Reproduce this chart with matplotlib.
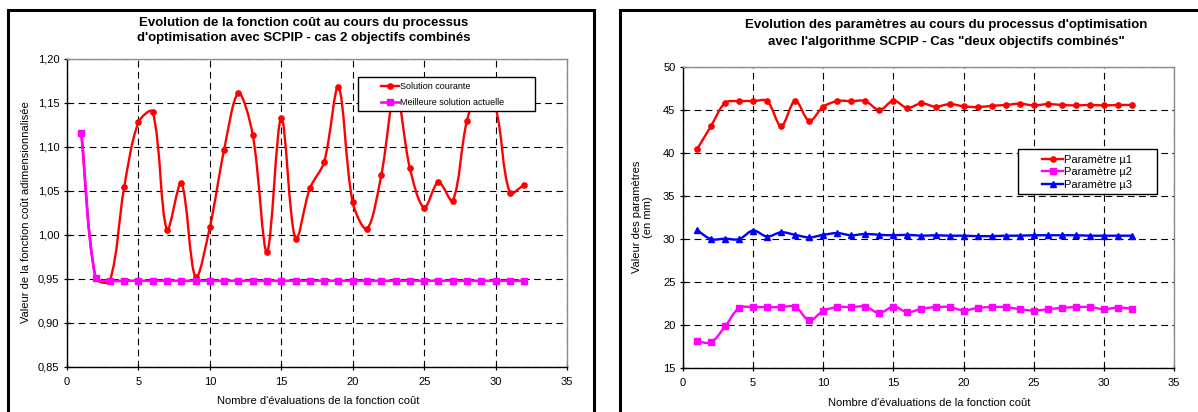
import numpy as np
import matplotlib
matplotlib.use("Agg")
import matplotlib.pyplot as plt
from matplotlib.path import Path
from matplotlib.patches import PathPatch, Rectangle
from matplotlib.lines import Line2D
from matplotlib.ticker import FuncFormatter, MultipleLocator

plt.rcParams['font.family'] = ['Liberation Sans', 'DejaVu Sans']

# ---- data -------------------------------------------------------------
evaluations = list(range(1, 33))

cost_current = [1.116, 0.951, 0.948, 1.054, 1.128, 1.140, 1.006, 1.059,
                0.952, 1.009, 1.097, 1.161, 1.114, 0.981, 1.133, 0.995,
                1.053, 1.083, 1.168, 1.037, 1.007, 1.068, 1.165, 1.076,
                1.031, 1.060, 1.039, 1.130, 1.170, 1.145, 1.048, 1.057]
cost_best = [1.116, 0.951, 0.948, 0.948, 0.948, 0.948, 0.948, 0.948,
             0.948, 0.948, 0.948, 0.948, 0.948, 0.948, 0.948, 0.948,
             0.948, 0.948, 0.948, 0.948, 0.948, 0.948, 0.948, 0.948,
             0.948, 0.948, 0.948, 0.948, 0.948, 0.948, 0.948, 0.948]

mu1 = [40.4, 43.1, 45.8, 46.0, 46.0, 46.0, 43.1, 46.05,
       43.7, 45.35, 46.0, 46.0, 46.0, 44.95, 46.05, 45.2,
       45.75, 45.35, 45.65, 45.4, 45.3, 45.45, 45.55, 45.7,
       45.5, 45.65, 45.55, 45.5, 45.55, 45.5, 45.55, 45.55]
mu2 = [18.05, 17.95, 19.8, 21.95, 22.05, 22.05, 22.05, 22.1,
       20.5, 21.6, 22.05, 22.05, 22.1, 21.35, 22.1, 21.45,
       21.85, 22.05, 22.05, 21.65, 21.95, 22.05, 22.05, 21.8,
       21.65, 21.8, 21.95, 22.05, 22.05, 21.8, 22.0, 21.85]
mu3 = [31.0, 29.95, 30.0, 29.95, 30.95, 30.25, 30.75, 30.45,
       30.15, 30.45, 30.65, 30.4, 30.55, 30.45, 30.4, 30.45,
       30.35, 30.4, 30.35, 30.35, 30.3, 30.3, 30.35, 30.35,
       30.4, 30.4, 30.4, 30.4, 30.35, 30.35, 30.35, 30.35]

cost_ticks = [0.85, 0.90, 0.95, 1.00, 1.05, 1.10, 1.15, 1.20]
x_ticks = [0, 5, 10, 15, 20, 25, 30, 35]

RED = '#FF0000'
MAGENTA = '#FF00FF'
BLUE = '#0000FF'

W, H = 1198, 412
fig = plt.figure(figsize=(W / 100, H / 100), dpi=100)


def smooth_line(ax, x, y, color, lw=1.6, zorder=3):
    """Spreadsheet-style smoothed line: cubic Bezier segments whose
    tangents are weighted by on-screen chord lengths."""
    pts = ax.transData.transform(np.column_stack([x, y]))
    n = len(pts)
    verts = [pts[0]]
    codes = [Path.MOVETO]
    for i in range(n - 1):
        p0 = pts[i - 1] if i > 0 else pts[i]
        p1 = pts[i]
        p2 = pts[i + 1]
        p3 = pts[i + 2] if i + 2 < n else pts[i + 1]
        d01 = np.hypot(*(p1 - p0))
        d12 = np.hypot(*(p2 - p1))
        d23 = np.hypot(*(p3 - p2))
        f1 = d12 / (d01 + d12) / 3 if d01 + d12 > 0 else 0
        f2 = d12 / (d12 + d23) / 3 if d12 + d23 > 0 else 0
        c1 = p1 + (p2 - p0) * f1
        c2 = p2 - (p3 - p1) * f2
        verts += [c1, c2, p2]
        codes += [Path.CURVE4] * 3
    data_verts = ax.transData.inverted().transform(np.array(verts))
    ax.add_patch(PathPatch(Path(data_verts, codes), fill=False,
                           edgecolor=color, lw=lw, zorder=zorder,
                           transform=ax.transData,
                           capstyle='round', joinstyle='round'))


def style_axes(ax):
    ax.set_xlim(0, 35)
    ax.set_xticks(x_ticks)
    ax.grid(True, color='black', linestyle=(0, (6, 4)), lw=0.8)
    ax.set_axisbelow(True)
    for side in ('top', 'right'):
        ax.spines[side].set_color('#8c8c8c')
        ax.spines[side].set_linewidth(1.0)
    for side in ('left', 'bottom'):
        ax.spines[side].set_color('black')
        ax.spines[side].set_linewidth(1.0)
    ax.tick_params(axis='both', direction='inout', length=5, width=0.9,
                   labelsize=8, colors='black')
    ax.tick_params(axis='x', pad=5)
    ax.tick_params(axis='y', pad=3)


def px_box(l, t, r, b):
    return [l / W, 1 - b / H, (r - l) / W, (b - t) / H]


# ---- outer frames -----------------------------------------------------
fig.patches.append(Rectangle((8 / W, -0.1), (594 - 8) / W, 1.1 - 10 / H,
                             transform=fig.transFigure, fill=False,
                             edgecolor='black', lw=2.2, zorder=0))
fig.patches.append(Rectangle((620 / W, -0.1), 0.6, 1.1 - 10 / H,
                             transform=fig.transFigure, fill=False,
                             edgecolor='black', lw=2.2, zorder=0))

# ---- left: cost function ---------------------------------------------
ax1 = fig.add_axes(px_box(67, 59, 567, 367))
style_axes(ax1)
ax1.set_ylim(0.85, 1.20)
ax1.set_yticks(cost_ticks)
ax1.yaxis.set_major_formatter(FuncFormatter(lambda v, p: f"{v:.2f}".replace('.', ',')))

smooth_line(ax1, evaluations, cost_current, RED, lw=1.7, zorder=3)
ax1.plot(evaluations, cost_current, linestyle='none', marker='o',
         ms=3.8, color=RED, zorder=4)
smooth_line(ax1, evaluations, cost_best, MAGENTA, lw=1.9, zorder=5)
ax1.plot(evaluations, cost_best, linestyle='none', marker='s',
         ms=4.2, color=MAGENTA, zorder=6)

ax1.add_patch(Rectangle((0.582, 0.831), 0.936 - 0.582, 0.9416 - 0.831,
                        transform=ax1.transAxes, facecolor='white',
                        edgecolor='black', lw=1.0, zorder=7))
h1 = [Line2D([], [], color=RED, lw=1.7, marker='o', ms=3.8),
      Line2D([], [], color=MAGENTA, lw=1.9, marker='s', ms=4.2)]
leg1 = ax1.legend(h1, ['Solution courante', 'Meilleure solution actuelle'],
                  loc='center left', bbox_to_anchor=(0.627, 0.885),
                  frameon=False, fontsize=6.5, numpoints=1,
                  handlelength=2.1, handletextpad=0.1, borderpad=0,
                  borderaxespad=0, labelspacing=0.75)
leg1.set_zorder(8)

fig.text(304 / W, 1 - 23 / H,
         "Evolution de la fonction coût au cours du processus",
         ha='center', va='center', fontsize=9.5, fontweight='bold')
fig.text(304 / W, 1 - 38.5 / H,
         "d'optimisation avec SCPIP - cas 2 objectifs combinés",
         ha='center', va='center', fontsize=9.5, fontweight='bold')
fig.text(25.6 / W, 1 - 212 / H,
         "Valeur de la fonction coût adimensionnalisée",
         ha='center', va='center', rotation=90, fontsize=8)
fig.text(318 / W, 1 - 401 / H, "Nombre d'évaluations de la fonction coût",
         ha='center', va='center', fontsize=8)

# ---- right: design parameters ----------------------------------------
ax2 = fig.add_axes(px_box(683, 66.7, 1174, 367.7))
style_axes(ax2)
ax2.set_ylim(15, 50)
ax2.yaxis.set_major_locator(MultipleLocator(5))

smooth_line(ax2, evaluations, mu1, RED, lw=1.7, zorder=3)
ax2.plot(evaluations, mu1, linestyle='none', marker='o', ms=3.8,
         color=RED, zorder=4)
smooth_line(ax2, evaluations, mu2, MAGENTA, lw=1.7, zorder=3)
ax2.plot(evaluations, mu2, linestyle='none', marker='s', ms=4.2,
         color=MAGENTA, zorder=4)
smooth_line(ax2, evaluations, mu3, BLUE, lw=1.7, zorder=3)
ax2.plot(evaluations, mu3, linestyle='none', marker='^', ms=4.5,
         color=BLUE, zorder=4)

ax2.add_patch(Rectangle((0.682, 0.577), 0.965 - 0.682, 0.7266 - 0.577,
                        transform=ax2.transAxes, facecolor='white',
                        edgecolor='black', lw=1.0, zorder=7))
h2 = [Line2D([], [], color=RED, lw=1.7, marker='o', ms=3.8),
      Line2D([], [], color=MAGENTA, lw=1.7, marker='s', ms=4.2),
      Line2D([], [], color=BLUE, lw=1.7, marker='^', ms=4.5)]
leg2 = ax2.legend(h2, ['Paramètre µ1', 'Paramètre µ2', 'Paramètre µ3'],
                  loc='center left', bbox_to_anchor=(0.732, 0.649),
                  frameon=False, fontsize=8, numpoints=1,
                  handlelength=1.85, handletextpad=0.1, borderpad=0,
                  borderaxespad=0, labelspacing=0.22)
leg2.set_zorder(8)

fig.text(946 / W, 1 - 25 / H,
         "Evolution des paramètres au cours du processus d'optimisation",
         ha='center', va='center', fontsize=9.5, fontweight='bold')
fig.text(946 / W, 1 - 42 / H,
         "avec l'algorithme SCPIP - Cas \"deux objectifs combinés\"",
         ha='center', va='center', fontsize=9.5, fontweight='bold')
fig.text(642.7 / W, 1 - 217 / H, "Valeur des paramètres\n(en mm)",
         ha='center', va='center', rotation=90, fontsize=8,
         multialignment='center', linespacing=1.15)
fig.text(929 / W, 1 - 403 / H, "Nombre d'évaluations de la fonction coût",
         ha='center', va='center', fontsize=8)

fig.savefig('out.png', dpi=100)
